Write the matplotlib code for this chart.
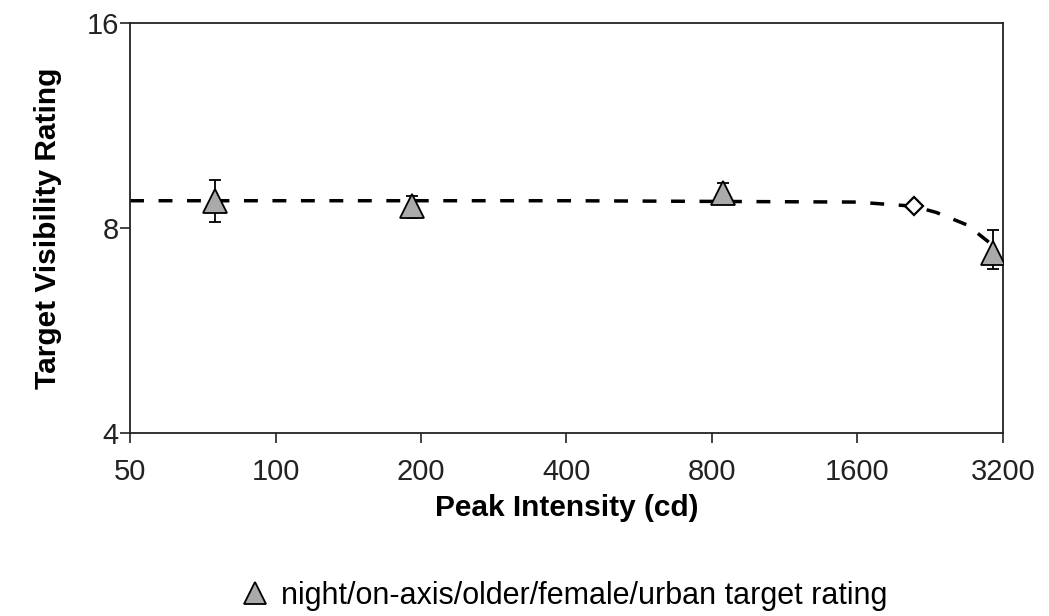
import matplotlib.pyplot as plt
import numpy as np

plt.rcParams['font.family'] = ['Liberation Sans', 'DejaVu Sans']

# Measured ratings (triangles) with error bar ends
intensity = [75, 192, 843, 3050]
rating = [8.75, 8.61, 9.0, 7.35]
err_low = [8.16, 8.27, 8.75, 6.96]
err_high = [9.4, 8.9, 9.3, 7.95]

# Predicted point (open diamond)
pred_x = [2093]
pred_y = [8.61]

# Dashed model curve
curve_x = [50, 400, 1600, 1780, 2090, 2330, 2700, 3010, 3200]
curve_y = [8.77, 8.77, 8.73, 8.68, 8.61, 8.43, 8.08, 7.6, 7.06]

xticks = [50, 100, 200, 400, 800, 1600, 3200]
yticks = [4, 8, 16]

fig = plt.figure(figsize=(10.49, 6.16), dpi=100)
ax = fig.add_axes([0.124, 0.297, 0.832, 0.666])

ax.plot(curve_x, curve_y, color='black', lw=2.5, dashes=(4.0, 4.2), zorder=2)

yerr = [np.array(rating) - np.array(err_low), np.array(err_high) - np.array(rating)]
ax.errorbar(intensity, rating, yerr=yerr, fmt='none', ecolor='black',
            elinewidth=1.3, capsize=4, capthick=1.3, zorder=3)
ax.plot(intensity, rating, linestyle='none', marker='^', markersize=17,
        markerfacecolor='#aaaaaa', markeredgecolor='black', markeredgewidth=1.3,
        zorder=4, label='night/on-axis/older/female/urban target rating')
ax.plot(pred_x, pred_y, linestyle='none', marker='D', markersize=9,
        markerfacecolor='white', markeredgecolor='black', markeredgewidth=1.6,
        zorder=4)

ax.set_xscale('log', base=2)
ax.set_yscale('log', base=2)
ax.set_xlim(50, 3200)
ax.set_ylim(4, 16)
ax.set_xticks(xticks)
ax.set_xticklabels([str(t) for t in xticks])
ax.set_yticks(yticks)
ax.set_yticklabels([str(t) for t in yticks])
ax.minorticks_off()
ax.tick_params(axis='both', labelsize=21, length=7, width=1.2, direction='out',
               colors='#222222')
ax.tick_params(axis='x', pad=11)
ax.tick_params(axis='y', pad=1)
for s in ax.spines.values():
    s.set_linewidth(1.3)
    s.set_color('#222222')

ax.set_xlabel('Peak Intensity (cd)', fontsize=21.5, fontweight='bold', labelpad=6)
ax.set_ylabel('Target Visibility Rating', fontsize=21.5, fontweight='bold', labelpad=18)

fig.legend(loc='center', bbox_to_anchor=(0.537, 0.0325), frameon=False,
           fontsize=22, handlelength=1.0, handletextpad=0.35, numpoints=1,
           markerscale=0.93, borderpad=0)

fig.savefig('out.png', dpi=100)
